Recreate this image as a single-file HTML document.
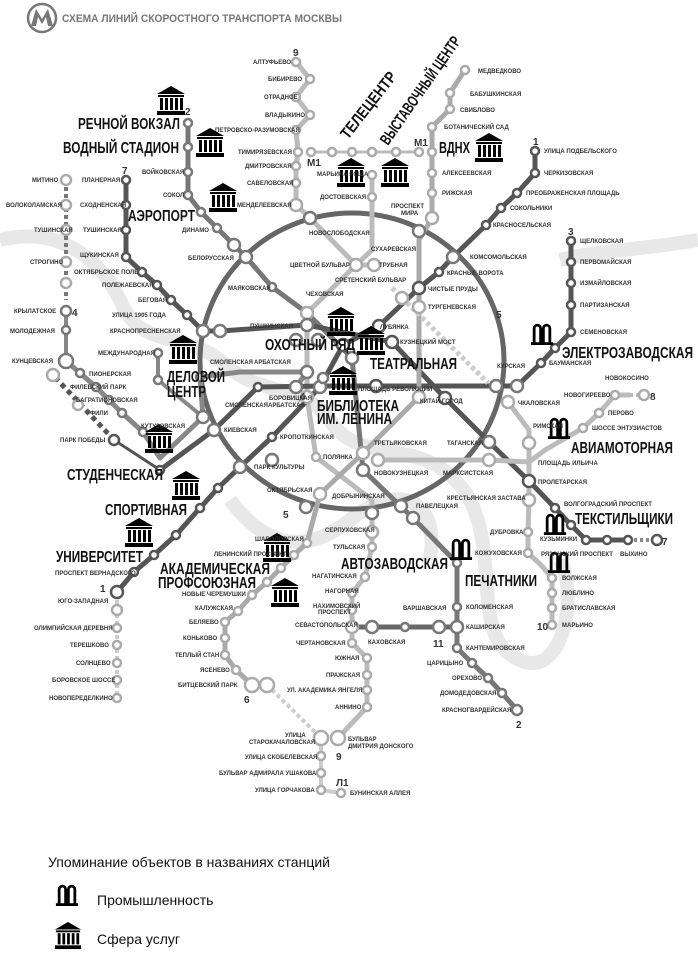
<!DOCTYPE html>
<html><head><meta charset="utf-8"><style>
html,body{margin:0;padding:0;background:#fff;}
svg{display:block;}
.s{font-family:"Liberation Sans",sans-serif;font-size:6px;font-weight:bold;fill:#333;}
.b{font-family:"Liberation Sans",sans-serif;font-size:16px;font-weight:bold;fill:#111;}
.lg{font-family:"Liberation Sans",sans-serif;font-size:14px;fill:#111;}
</style></head><body>
<svg width="698" height="961" viewBox="0 0 698 961" xmlns="http://www.w3.org/2000/svg">
<defs>
<symbol id="tm" viewBox="0 0 30 30"><polygon points="15,0 1,8 29,8" fill="#000"/><rect x="2" y="9" width="26" height="2" fill="#000"/><rect x="4" y="12" width="3" height="12" fill="#000"/><rect x="9" y="12" width="3" height="12" fill="#000"/><rect x="14" y="12" width="3" height="12" fill="#000"/><rect x="19" y="12" width="3" height="12" fill="#000"/><rect x="24" y="12" width="3" height="12" fill="#000"/><rect x="1" y="25" width="28" height="4" fill="#000"/></symbol>
<symbol id="ind" viewBox="0 0 26 26"><path d="M3 24V8a5 5 0 0 1 10 0v16h-3V8a2 2 0 0 0-4 0v16z M13 24V8a5 5 0 0 1 10 0v16h-3V8a2 2 0 0 0-4 0v16z" fill="#000"/><rect x="1" y="23" width="24" height="3" fill="#000"/></symbol>
</defs>
<!-- background river -->
<g fill="none" stroke="#e8e8e8" stroke-width="14">
<path d="M0 240 C60 225 100 260 120 300 C140 350 180 330 220 360 C260 400 300 380 330 420 C360 470 430 430 470 500 C500 560 470 640 520 660 C560 680 580 600 560 560"/>
<path d="M230 500 C260 540 300 560 350 520 C400 480 440 500 430 560"/>
<path d="M560 260 C600 250 640 250 698 240"/>
</g>
<!-- logo -->
<circle cx="42" cy="18" r="14" fill="#fff" stroke="#777" stroke-width="2.5"/>
<path d="M31 26 L36 9 L42 19 L48 9 L53 26 L48 26 L46 17 L42 24 L38 17 L36 26Z" fill="#777"/>
<text x="62" y="22" font-family="Liberation Sans,sans-serif" font-size="11" font-weight="bold" fill="#777" textLength="280" lengthAdjust="spacingAndGlyphs">СХЕМА ЛИНИЙ СКОРОСТНОГО ТРАНСПОРТА МОСКВЫ</text>
<!-- ring -->
<ellipse cx="352" cy="361" rx="152" ry="148" fill="none" stroke="#666" stroke-width="5"/>
<g fill="none" stroke-linejoin="round">
<!-- line 9 -->
<polyline stroke="#bbb" stroke-width="5" points="296,62 310,79 296,97 310,115 296,130 298,152 296,166 296,183 296,205 310,218 356,265 307,313 307,397 316,457 372,500 372,532 372,547 365,577 352,593 352,610 352,627 352,643 367,658 367,675 367,690 367,707 338,738"/>
<polyline stroke="#ccc" stroke-width="4" points="321,738 321,790 341,793"/>
<polyline stroke="#ccc" stroke-width="4" stroke-dasharray="4 3" points="267,685 321,738"/>
<!-- M1 -->
<polyline stroke="#bbb" stroke-width="3" points="311,152 419,152"/>
<!-- line 2 -->
<polyline stroke="#777" stroke-width="5" points="188,123 188,147 188,172 188,195 201,212 217,228 246,257 272,287 307,313 352,358 363,470 413,518 457,563 457,607 457,627 457,648 472,663 488,678 502,693 517,710"/>
<!-- line 1 -->
<polyline stroke="#555" stroke-width="5" points="535,151 535,173 517,193 501,208 486,225 453,257 439,272 419,288 379,326 343,345 320,387 272,437 240,467 218,488 200,508 176,535 154,555 134,572 117,592"/>
<polyline stroke="#ccc" stroke-width="4" stroke-dasharray="4 3" points="117,600 117,700"/>
<!-- line 3 -->
<polyline stroke="#555" stroke-width="5" points="571,241 571,262 571,283 571,305 571,332 555,348 541,363 517,386 376,386 323,386 258,387 214,430 160,470"/>
<polyline stroke="#555" stroke-width="5" stroke-dasharray="5 4" points="114,440 53,375"/>
<polyline stroke="#555" stroke-width="3" points="114,440 160,470"/>
<polyline stroke="#777" stroke-width="4" stroke-dasharray="4 3" points="66,180 66,300"/>
<polyline stroke="#888" stroke-width="4" points="66,311 66,361"/>
<!-- line 4 -->
<polyline stroke="#888" stroke-width="5" points="66,361 80,373 96,387 109,400 122,413 143,432 160,458 203,417 200,377 240,372 307,372 296,387"/>
<polyline stroke="#888" stroke-width="4" points="158,353 158,380 203,417"/>
<!-- line 7 -->
<polyline stroke="#555" stroke-width="5" points="126,180 126,205 126,230 126,257 142,272 157,285 171,300 187,315 203,331 220,331 307,325 392,342 445,398 489,442 529,481 555,508 571,525 586,540 607,540 628,540"/>
<polyline stroke="#888" stroke-width="4" stroke-dasharray="3 3" points="628,540 657,540"/>
<!-- line 6 -->
<polyline stroke="#aaa" stroke-width="5" points="465,70 450,93 450,109 432,127 432,152 432,173 432,193 432,218 419,240 419,307 419,397 363,453 320,494 307,543 294,555 281,568 267,582 252,595 238,611 225,622 225,638 225,655 236,670 252,685 267,685"/>
<!-- line 8 -->
<polyline stroke="#bbb" stroke-width="5" points="378,460 489,460 529,462 545,450 583,428 599,413 615,395 630,395"/>
<polyline stroke="#bbb" stroke-width="4" stroke-dasharray="3 3" points="630,395 644,395"/>
<!-- line 10 -->
<polyline stroke="#bbb" stroke-width="5" points="372,175 372,197 372,250 356,265 374,265"/>
<polyline stroke="#ccc" stroke-width="5" stroke-dasharray="4 3" points="392,288 488,383"/>
<polyline stroke="#bbb" stroke-width="5" points="508,402 529,430 529,443 529,500 528,532 528,553 541,565 552,578 552,593 552,608 552,625"/>
<!-- line 11 -->
<polyline stroke="#666" stroke-width="5" points="352,627 372,627 405,627 439,627 457,627"/>
</g>
<!-- stations -->
<g fill="#fff" stroke-width="2.5">
<g stroke="#aaa"><circle cx="296" cy="62" r="4"/><circle cx="310" cy="79" r="4"/><circle cx="296" cy="97" r="4"/><circle cx="310" cy="115" r="4"/><circle cx="296" cy="130" r="4"/><circle cx="298" cy="152" r="4"/><circle cx="296" cy="166" r="4"/><circle cx="296" cy="183" r="4"/><circle cx="296" cy="205" r="6"/><circle cx="356" cy="265" r="6"/><circle cx="374" cy="265" r="6"/><circle cx="307" cy="313" r="6"/><circle cx="307" cy="397" r="6"/><circle cx="316" cy="457" r="4"/><circle cx="372" cy="532" r="6"/><circle cx="372" cy="547" r="4"/><circle cx="365" cy="577" r="4"/><circle cx="352" cy="593" r="4"/><circle cx="352" cy="610" r="4"/><circle cx="352" cy="627" r="6"/><circle cx="352" cy="643" r="4"/><circle cx="367" cy="658" r="4"/><circle cx="367" cy="675" r="4"/><circle cx="367" cy="690" r="4"/><circle cx="367" cy="707" r="4"/><circle cx="321" cy="738" r="7"/><circle cx="338" cy="738" r="7"/><circle cx="321" cy="756" r="4"/><circle cx="321" cy="773" r="4"/><circle cx="321" cy="790" r="4"/><circle cx="341" cy="793" r="4"/>
<circle cx="332" cy="152" r="4"/><circle cx="352" cy="152" r="4"/><circle cx="372" cy="152" r="4"/><circle cx="396" cy="152" r="4"/><circle cx="419" cy="152" r="4"/><circle cx="311" cy="152" r="4"/>
<circle cx="372" cy="175" r="4"/><circle cx="372" cy="197" r="4"/>
<circle cx="465" cy="70" r="4"/><circle cx="450" cy="93" r="4"/><circle cx="450" cy="109" r="4"/><circle cx="432" cy="127" r="4"/><circle cx="432" cy="152" r="4"/><circle cx="432" cy="173" r="4"/><circle cx="432" cy="193" r="4"/><circle cx="432" cy="218" r="6"/><circle cx="419" cy="307" r="6"/><circle cx="419" cy="397" r="6"/><circle cx="363" cy="453" r="6"/><circle cx="378" cy="460" r="6"/><circle cx="320" cy="494" r="6"/><circle cx="307" cy="543" r="4"/><circle cx="294" cy="555" r="4"/><circle cx="281" cy="568" r="4"/><circle cx="267" cy="582" r="4"/><circle cx="252" cy="595" r="4"/><circle cx="238" cy="611" r="4"/><circle cx="225" cy="622" r="4"/><circle cx="225" cy="638" r="4"/><circle cx="225" cy="655" r="4"/><circle cx="236" cy="670" r="4"/><circle cx="252" cy="685" r="7"/><circle cx="267" cy="685" r="7"/>
<circle cx="529" cy="443" r="6"/><circle cx="529" cy="500" r="6"/><circle cx="528" cy="532" r="4"/><circle cx="528" cy="553" r="4"/><circle cx="552" cy="578" r="4"/><circle cx="552" cy="593" r="4"/><circle cx="552" cy="608" r="4"/><circle cx="552" cy="625" r="4"/><circle cx="508" cy="402" r="6"/><circle cx="402" cy="298" r="6"/>
<circle cx="583" cy="428" r="4"/><circle cx="599" cy="413" r="4"/><circle cx="615" cy="395" r="4"/><circle cx="644" cy="395" r="5"/><circle cx="489" cy="460" r="6"/>
<circle cx="66" cy="180" r="5"/><circle cx="66" cy="205" r="5"/><circle cx="66" cy="230" r="5"/><circle cx="66" cy="262" r="5"/><circle cx="66" cy="283" r="5"/><circle cx="117" cy="610" r="5"/><circle cx="117" cy="628" r="4"/><circle cx="117" cy="645" r="4"/><circle cx="117" cy="663" r="4"/><circle cx="117" cy="680" r="4"/><circle cx="117" cy="698" r="4"/><circle cx="78" cy="405" r="5"/><circle cx="53" cy="375" r="6"/>
</g>
<g stroke="#777"><circle cx="188" cy="123" r="4"/><circle cx="188" cy="147" r="4"/><circle cx="188" cy="172" r="4"/><circle cx="188" cy="195" r="4"/><circle cx="201" cy="212" r="4"/><circle cx="217" cy="228" r="4"/><circle cx="234" cy="245" r="6"/><circle cx="246" cy="257" r="6"/><circle cx="272" cy="287" r="4"/><circle cx="307" cy="325" r="6"/><circle cx="296" cy="340" r="6"/><circle cx="318" cy="340" r="6"/><circle cx="352" cy="358" r="6"/><circle cx="363" cy="470" r="6"/><circle cx="401" cy="506" r="6"/><circle cx="413" cy="518" r="6"/><circle cx="457" cy="563" r="4"/><circle cx="457" cy="607" r="4"/><circle cx="457" cy="627" r="6"/><circle cx="439" cy="627" r="6"/><circle cx="405" cy="627" r="4"/><circle cx="372" cy="627" r="6"/><circle cx="457" cy="648" r="4"/><circle cx="472" cy="663" r="4"/><circle cx="488" cy="678" r="4"/><circle cx="502" cy="693" r="4"/><circle cx="517" cy="710" r="5"/><circle cx="310" cy="218" r="6"/><circle cx="453" cy="257" r="6"/><circle cx="419" cy="231" r="6"/><circle cx="306" cy="507" r="6"/><circle cx="372" cy="513" r="6"/><circle cx="489" cy="442" r="6"/><circle cx="496" cy="386" r="6"/><circle cx="517" cy="386" r="6"/><circle cx="203" cy="331" r="6"/><circle cx="220" cy="331" r="6"/><circle cx="214" cy="430" r="6"/><circle cx="203" cy="417" r="6"/><circle cx="240" cy="467" r="6"/><circle cx="272" cy="460" r="6"/><circle cx="66" cy="311" r="5"/><circle cx="66" cy="330" r="4"/><circle cx="66" cy="361" r="7"/><circle cx="80" cy="373" r="4"/><circle cx="96" cy="387" r="4"/><circle cx="109" cy="400" r="4"/><circle cx="122" cy="413" r="4"/><circle cx="143" cy="432" r="4"/><circle cx="158" cy="353" r="4"/><circle cx="158" cy="380" r="4"/><circle cx="200" cy="377" r="4"/><circle cx="307" cy="372" r="6"/><circle cx="296" cy="387" r="6"/><circle cx="320" cy="387" r="6"/><circle cx="323" cy="378" r="5"/></g>
<g stroke="#555"><circle cx="535" cy="151" r="4"/><circle cx="535" cy="173" r="4"/><circle cx="517" cy="193" r="4"/><circle cx="501" cy="208" r="4"/><circle cx="486" cy="225" r="4"/><circle cx="439" cy="272" r="4"/><circle cx="419" cy="288" r="6"/><circle cx="379" cy="326" r="6"/><circle cx="343" cy="345" r="6"/><circle cx="272" cy="437" r="4"/><circle cx="218" cy="488" r="4"/><circle cx="200" cy="508" r="4"/><circle cx="176" cy="535" r="4"/><circle cx="154" cy="555" r="4"/><circle cx="134" cy="572" r="4"/><circle cx="117" cy="592" r="6"/>
<circle cx="571" cy="241" r="4"/><circle cx="571" cy="262" r="4"/><circle cx="571" cy="283" r="4"/><circle cx="571" cy="305" r="4"/><circle cx="571" cy="332" r="4"/><circle cx="555" cy="348" r="4"/><circle cx="541" cy="363" r="4"/><circle cx="376" cy="386" r="6"/><circle cx="258" cy="387" r="4"/><circle cx="114" cy="440" r="5"/><circle cx="160" cy="470" r="4"/>
<circle cx="126" cy="180" r="4"/><circle cx="126" cy="205" r="4"/><circle cx="126" cy="230" r="4"/><circle cx="126" cy="257" r="4"/><circle cx="142" cy="272" r="4"/><circle cx="157" cy="285" r="4"/><circle cx="171" cy="300" r="4"/><circle cx="187" cy="315" r="4"/><circle cx="392" cy="342" r="6"/><circle cx="445" cy="398" r="6"/><circle cx="529" cy="481" r="6"/><circle cx="555" cy="508" r="4"/><circle cx="571" cy="525" r="4"/><circle cx="586" cy="540" r="4"/><circle cx="607" cy="540" r="4"/><circle cx="628" cy="540" r="4"/><circle cx="657" cy="540" r="5"/></g>
</g>
<!-- icons -->
<g>
<use href="#tm" x="156" y="86" width="30" height="30"/><use href="#tm" x="195" y="128" width="30" height="30"/><use href="#tm" x="208" y="183" width="30" height="30"/>
<use href="#tm" x="336" y="158" width="30" height="30"/><use href="#tm" x="380" y="158" width="30" height="30"/><use href="#tm" x="474" y="133" width="30" height="30"/>
<use href="#tm" x="326" y="307" width="30" height="30"/><use href="#tm" x="356" y="326" width="30" height="30"/><use href="#tm" x="168" y="335" width="30" height="30"/>
<use href="#tm" x="328" y="366" width="30" height="30"/><use href="#tm" x="144" y="424" width="30" height="30"/><use href="#tm" x="171" y="471" width="30" height="30"/>
<use href="#tm" x="124" y="518" width="30" height="30"/><use href="#tm" x="262" y="533" width="30" height="30"/><use href="#tm" x="270" y="578" width="30" height="30"/>
<use href="#ind" x="530" y="320" width="24" height="26"/><use href="#ind" x="547" y="414" width="24" height="26"/><use href="#ind" x="543" y="510" width="24" height="26"/><use href="#ind" x="449" y="535" width="24" height="26"/><use href="#ind" x="547" y="548" width="24" height="26"/>
</g>
<!-- big labels -->
<g class="b">
<text x="78" y="129" textLength="102" lengthAdjust="spacingAndGlyphs">РЕЧНОЙ ВОКЗАЛ</text>
<text x="63" y="153" textLength="116" lengthAdjust="spacingAndGlyphs">ВОДНЫЙ СТАДИОН</text>
<text x="128" y="221" textLength="67" lengthAdjust="spacingAndGlyphs">АЭРОПОРТ</text>
<text x="265" y="350" textLength="90" lengthAdjust="spacingAndGlyphs">ОХОТНЫЙ РЯД</text>
<text x="370" y="369" textLength="87" lengthAdjust="spacingAndGlyphs">ТЕАТРАЛЬНАЯ</text>
<text x="167" y="382" textLength="58" lengthAdjust="spacingAndGlyphs">ДЕЛОВОЙ</text>
<text x="167" y="397" textLength="39" lengthAdjust="spacingAndGlyphs">ЦЕНТР</text>
<text x="317" y="411" textLength="82" lengthAdjust="spacingAndGlyphs">БИБЛИОТЕКА</text>
<text x="317" y="424" textLength="75" lengthAdjust="spacingAndGlyphs">ИМ. ЛЕНИНА</text>
<text x="562" y="358" textLength="131" lengthAdjust="spacingAndGlyphs">ЭЛЕКТРОЗАВОДСКАЯ</text>
<text x="571" y="453" textLength="102" lengthAdjust="spacingAndGlyphs">АВИАМОТОРНАЯ</text>
<text x="67" y="480" textLength="96" lengthAdjust="spacingAndGlyphs">СТУДЕНЧЕСКАЯ</text>
<text x="105" y="515" textLength="82" lengthAdjust="spacingAndGlyphs">СПОРТИВНАЯ</text>
<text x="56" y="562" textLength="87" lengthAdjust="spacingAndGlyphs">УНИВЕРСИТЕТ</text>
<text x="160" y="574" textLength="110" lengthAdjust="spacingAndGlyphs">АКАДЕМИЧЕСКАЯ</text>
<text x="158" y="588" textLength="98" lengthAdjust="spacingAndGlyphs">ПРОФСОЮЗНАЯ</text>
<text x="341" y="569" textLength="107" lengthAdjust="spacingAndGlyphs">АВТОЗАВОДСКАЯ</text>
<text x="465" y="586" textLength="72" lengthAdjust="spacingAndGlyphs">ПЕЧАТНИКИ</text>
<text x="575" y="524" textLength="98" lengthAdjust="spacingAndGlyphs">ТЕКСТИЛЬЩИКИ</text>
<text x="439" y="153" textLength="31" lengthAdjust="spacingAndGlyphs">ВДНХ</text>
<text transform="translate(348,140) rotate(-52)" textLength="80" lengthAdjust="spacingAndGlyphs">ТЕЛЕЦЕНТР</text>
<text transform="translate(388,146) rotate(-55)" textLength="128" lengthAdjust="spacingAndGlyphs">ВЫСТАВОЧНЫЙ ЦЕНТР</text>
</g>
<!-- numbers -->
<g font-family="Liberation Sans,sans-serif" font-size="10" font-weight="bold" fill="#333">
<text x="293" y="56">9</text><text x="185" y="115">2</text><text x="122" y="174">7</text><text x="533" y="145">1</text><text x="568" y="235">3</text><text x="496" y="318">5</text><text x="72" y="316">4</text><text x="650" y="400">8</text><text x="662" y="545">7</text><text x="100" y="592">1</text><text x="283" y="518">5</text><text x="300" y="400">4</text><text x="244" y="703">6</text><text x="336" y="760">9</text><text x="433" y="647">11</text><text x="537" y="630">10</text><text x="516" y="728">2</text><text x="336" y="786">Л1</text><text x="307" y="166">М1</text><text x="414" y="146">М1</text>
</g>
<!-- small labels -->
<g class="s">
<text x="253" y="64">АЛТУФЬЕВО</text><text x="268" y="81">БИБИРЕВО</text><text x="264" y="99">ОТРАДНОЕ</text><text x="265" y="117">ВЛАДЫКИНО</text><text x="215" y="132">ПЕТРОВСКО-РАЗУМОВСКАЯ</text><text x="238" y="154">ТИМИРЯЗЕВСКАЯ</text><text x="245" y="168">ДМИТРОВСКАЯ</text><text x="247" y="185">САВЕЛОВСКАЯ</text><text x="237" y="207">МЕНДЕЛЕЕВСКАЯ</text>
<text x="142" y="174">ВОЙКОВСКАЯ</text><text x="163" y="197">СОКОЛ</text><text x="182" y="232">ДИНАМО</text><text x="188" y="260">БЕЛОРУССКАЯ</text><text x="228" y="290">МАЯКОВСКАЯ</text><text x="309" y="235">НОВОСЛОБОДСКАЯ</text>
<text x="478" y="73">МЕДВЕДКОВО</text><text x="470" y="96">БАБУШКИНСКАЯ</text><text x="460" y="112">СВИБЛОВО</text><text x="444" y="129">БОТАНИЧЕСКИЙ САД</text><text x="442" y="175">АЛЕКСЕЕВСКАЯ</text><text x="442" y="195">РИЖСКАЯ</text><text x="391" y="208">ПРОСПЕКТ</text><text x="401" y="215">МИРА</text>
<text x="544" y="153">УЛИЦА ПОДБЕЛЬСКОГО</text><text x="544" y="175">ЧЕРКИЗОВСКАЯ</text><text x="526" y="195">ПРЕОБРАЖЕНСКАЯ ПЛОЩАДЬ</text><text x="510" y="210">СОКОЛЬНИКИ</text><text x="493" y="227">КРАСНОСЕЛЬСКАЯ</text><text x="470" y="259">КОМСОМОЛЬСКАЯ</text><text x="447" y="275">КРАСНЫЕ ВОРОТА</text><text x="428" y="291">ЧИСТЫЕ ПРУДЫ</text><text x="428" y="309">ТУРГЕНЕВСКАЯ</text><text x="400" y="344">КУЗНЕЦКИЙ МОСТ</text><text x="380" y="329">ЛУБЯНКА</text>
<text x="580" y="243">ЩЕЛКОВСКАЯ</text><text x="580" y="264">ПЕРВОМАЙСКАЯ</text><text x="580" y="285">ИЗМАЙЛОВСКАЯ</text><text x="580" y="307">ПАРТИЗАНСКАЯ</text><text x="580" y="334">СЕМЕНОВСКАЯ</text><text x="549" y="365">БАУМАНСКАЯ</text><text x="497" y="368">КУРСКАЯ</text><text x="518" y="405">ЧКАЛОВСКАЯ</text>
<text x="605" y="380">НОВОКОСИНО</text><text x="564" y="397">НОВОГИРЕЕВО</text><text x="608" y="415">ПЕРОВО</text><text x="592" y="430">ШОССЕ ЭНТУЗИАСТОВ</text><text x="533" y="428">РИМСКАЯ</text><text x="538" y="465">ПЛОЩАДЬ ИЛЬИЧА</text><text x="538" y="484">ПРОЛЕТАРСКАЯ</text><text x="564" y="506">ВОЛГОГРАДСКИЙ ПРОСПЕКТ</text><text x="540" y="541">КУЗЬМИНКИ</text><text x="541" y="556">РЯЗАНСКИЙ ПРОСПЕКТ</text><text x="620" y="556">ВЫХИНО</text>
<text x="562" y="580">ВОЛЖСКАЯ</text><text x="562" y="595">ЛЮБЛИНО</text><text x="562" y="610">БРАТИСЛАВСКАЯ</text><text x="562" y="627">МАРЬИНО</text><text x="490" y="534">ДУБРОВКА</text><text x="447" y="500">КРЕСТЬЯНСКАЯ ЗАСТАВА</text><text x="475" y="555">КОЖУХОВСКАЯ</text><text x="466" y="609">КОЛОМЕНСКАЯ</text><text x="466" y="629">КАШИРСКАЯ</text><text x="466" y="650">КАНТЕМИРОВСКАЯ</text><text x="427" y="665">ЦАРИЦЫНО</text><text x="452" y="680">ОРЕХОВО</text><text x="440" y="695">ДОМОДЕДОВСКАЯ</text><text x="442" y="712">КРАСНОГВАРДЕЙСКАЯ</text>
<text x="403" y="610">ВАРШАВСКАЯ</text><text x="368" y="644">КАХОВСКАЯ</text><text x="295" y="627">СЕВАСТОПОЛЬСКАЯ</text><text x="296" y="645">ЧЕРТАНОВСКАЯ</text><text x="335" y="660">ЮЖНАЯ</text><text x="326" y="677">ПРАЖСКАЯ</text><text x="287" y="692">УЛ. АКАДЕМИКА ЯНГЕЛЯ</text><text x="335" y="709">АННИНО</text><text x="312" y="578">НАГАТИНСКАЯ</text><text x="333" y="549">ТУЛЬСКАЯ</text><text x="325" y="593">НАГОРНАЯ</text><text x="313" y="608">НАХИМОВСКИЙ</text><text x="318" y="614">ПРОСПЕКТ</text><text x="325" y="532">СЕРПУХОВСКАЯ</text><text x="332" y="498">ДОБРЫНИНСКАЯ</text><text x="416" y="508">ПАВЕЛЕЦКАЯ</text><text x="443" y="475">МАРКСИСТСКАЯ</text><text x="447" y="445">ТАГАНСКАЯ</text><text x="374" y="475">НОВОКУЗНЕЦКАЯ</text><text x="374" y="445">ТРЕТЬЯКОВСКАЯ</text><text x="323" y="459">ПОЛЯНКА</text><text x="420" y="403">КИТАЙ-ГОРОД</text>
<text x="348" y="741">БУЛЬВАР</text><text x="348" y="748">ДМИТРИЯ ДОНСКОГО</text><text x="285" y="737">УЛИЦА</text><text x="249" y="744">СТАРОКАЧАЛОВСКАЯ</text><text x="245" y="759">УЛИЦА СКОБЕЛЕВСКАЯ</text><text x="219" y="775">БУЛЬВАР АДМИРАЛА УШАКОВА</text><text x="255" y="792">УЛИЦА ГОРЧАКОВА</text><text x="350" y="795">БУНИНСКАЯ АЛЛЕЯ</text>
<text x="178" y="687">БИТЦЕВСКИЙ ПАРК</text><text x="200" y="672">ЯСЕНЕВО</text><text x="175" y="657">ТЕПЛЫЙ СТАН</text><text x="183" y="640">КОНЬКОВО</text><text x="189" y="624">БЕЛЯЕВО</text><text x="195" y="610">КАЛУЖСКАЯ</text><text x="182" y="596">НОВЫЕ ЧЕРЕМУШКИ</text><text x="214" y="556">ЛЕНИНСКИЙ ПРОСПЕКТ</text><text x="255" y="541">ШАБОЛОВСКАЯ</text><text x="267" y="492">ОКТЯБРЬСКАЯ</text><text x="254" y="469">ПАРК КУЛЬТУРЫ</text><text x="280" y="439">КРОПОТКИНСКАЯ</text><text x="269" y="400">БОРОВИЦКАЯ</text><text x="225" y="407">СМОЛЕНСКАЯ</text><text x="268" y="407">АРБАТСКАЯ</text><text x="224" y="432">КИЕВСКАЯ</text><text x="210" y="364">СМОЛЕНСКАЯ</text><text x="254" y="364">АРБАТСКАЯ</text><text x="250" y="328">ПУШКИНСКАЯ</text><text x="306" y="296">ЧЕХОВСКАЯ</text><text x="290" y="267">ЦВЕТНОЙ БУЛЬВАР</text><text x="335" y="282">СРЕТЕНСКИЙ БУЛЬВАР</text><text x="379" y="267">ТРУБНАЯ</text><text x="371" y="251">СУХАРЕВСКАЯ</text><text x="320" y="199">ДОСТОЕВСКАЯ</text><text x="317" y="176">МАРЬИНА РОЩА</text><text x="358" y="391">ПЛОЩАДЬ РЕВОЛЮЦИИ</text>
<text x="82" y="182">ПЛАНЕРНАЯ</text><text x="80" y="207">СХОДНЕНСКАЯ</text><text x="83" y="232">ТУШИНСКАЯ</text><text x="80" y="257">ЩУКИНСКАЯ</text><text x="74" y="274">ОКТЯБРЬСКОЕ ПОЛЕ</text><text x="102" y="287">ПОЛЕЖАЕВСКАЯ</text><text x="138" y="302">БЕГОВАЯ</text><text x="112" y="317">УЛИЦА 1905 ГОДА</text><text x="110" y="333">КРАСНОПРЕСНЕНСКАЯ</text><text x="98" y="355">МЕЖДУНАРОДНАЯ</text>
<text x="32" y="182">МИТИНО</text><text x="6" y="207">ВОЛОКОЛАМСКАЯ</text><text x="34" y="232">ТУШИНСКАЯ</text><text x="30" y="264">СТРОГИНО</text><text x="14" y="313">КРЫЛАТСКОЕ</text><text x="10" y="333">МОЛОДЕЖНАЯ</text><text x="12" y="363">КУНЦЕВСКАЯ</text><text x="89" y="376">ПИОНЕРСКАЯ</text><text x="70" y="389">ФИЛЕВСКИЙ ПАРК</text><text x="76" y="402">БАГРАТИОНОВСКАЯ</text><text x="90" y="415">ФИЛИ</text><text x="141" y="428">КУТУЗОВСКАЯ</text><text x="60" y="442">ПАРК ПОБЕДЫ</text>
<text x="55" y="575">ПРОСПЕКТ ВЕРНАДСКОГО</text><text x="58" y="603">ЮГО-ЗАПАДНАЯ</text><text x="34" y="630">ОЛИМПИЙСКАЯ ДЕРЕВНЯ</text><text x="70" y="647">ТЕРЕШКОВО</text><text x="76" y="665">СОЛНЦЕВО</text><text x="52" y="682">БОРОВСКОЕ ШОССЕ</text><text x="49" y="700">НОВОПЕРЕДЕЛКИНО</text>
</g>
<!-- legend -->
<text class="lg" x="48" y="867">Упоминание объектов в названиях станций</text>
<use href="#ind" x="54" y="882" width="26" height="24"/>
<text class="lg" x="97" y="905">Промышленность</text>
<use href="#tm" x="54" y="922" width="28" height="28"/>
<text class="lg" x="97" y="944">Сфера услуг</text>
</svg>
</body></html>
